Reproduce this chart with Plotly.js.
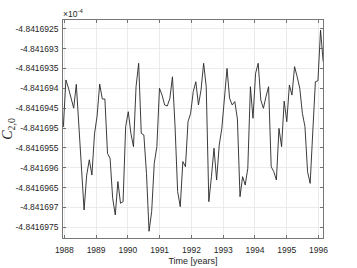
<!DOCTYPE html>
<html>
<head>
<meta charset="utf-8">
<script src="https://cdn.plot.ly/plotly-3.0.1.min.js"></script>
<style>html,body{margin:0;padding:0;background:#fff;}#chart{width:357px;height:268px;}</style>
</head>
<body>
<div id="chart"></div>
<script>
// Time in decimal years
const timeYears = [
1987.968,1988.050,1988.132,1988.213,1988.295,1988.377,1988.459,1988.541,1988.622,1988.704,
1988.786,1988.868,1988.950,1989.031,1989.113,1989.195,1989.277,1989.359,1989.440,1989.522,
1989.604,1989.686,1989.768,1989.849,1989.931,1990.013,1990.095,1990.177,1990.258,1990.340,
1990.422,1990.504,1990.586,1990.667,1990.749,1990.831,1990.913,1990.995,1991.076,1991.158,
1991.240,1991.322,1991.404,1991.485,1991.567,1991.649,1991.731,1991.813,1991.894,1991.976,
1992.058,1992.140,1992.222,1992.303,1992.385,1992.467,1992.549,1992.631,1992.712,1992.794,
1992.876,1992.958,1993.040,1993.121,1993.203,1993.285,1993.367,1993.449,1993.530,1993.612,
1993.694,1993.776,1993.858,1993.939,1994.021,1994.103,1994.185,1994.267,1994.348,1994.430,
1994.512,1994.594,1994.676,1994.757,1994.839,1994.921,1995.003,1995.085,1995.166,1995.248,
1995.330,1995.412,1995.494,1995.575,1995.657,1995.739,1995.821,1995.903,1995.984,1996.066,
1996.148];

// C_{2,0} in units of 1e-4
const c20 = [
-4.841694975,-4.841693790,-4.841694000,-4.841694250,-4.841694500,-4.841693900,-4.841694950,-4.841696000,-4.841697065,-4.841696185,
-4.841695800,-4.841696185,-4.841695150,-4.841694700,-4.841693895,-4.841694270,-4.841694270,-4.841695640,-4.841695765,-4.841696770,
-4.841697190,-4.841696350,-4.841696895,-4.841696855,-4.841694965,-4.841694590,-4.841695135,-4.841695470,-4.841693960,-4.841693370,
-4.841695135,-4.841695175,-4.841696140,-4.841697600,-4.841697105,-4.841695890,-4.841695470,-4.841694000,-4.841694170,-4.841694420,
-4.841694445,-4.841694255,-4.841693710,-4.841694950,-4.841696600,-4.841696980,-4.841695845,-4.841695975,-4.841694840,-4.841694630,
-4.841694085,-4.841693835,-4.841694420,-4.841694045,-4.841693370,-4.841693960,-4.841696855,-4.841696225,-4.841695510,-4.841696310,
-4.841695430,-4.841695010,-4.841694210,-4.841693500,-4.841694255,-4.841694420,-4.841694335,-4.841694775,-4.841696730,-4.841696225,
-4.841696435,-4.841696015,-4.841693960,-4.841694755,-4.841693625,-4.841693370,-4.841694295,-4.841694505,-4.841694210,-4.841693960,
-4.841695975,-4.841696100,-4.841696310,-4.841695010,-4.841695470,-4.841694325,-4.841694840,-4.841693920,-4.841694170,-4.841693455,
-4.841693710,-4.841694000,-4.841694630,-4.841694965,-4.841696100,-4.841696395,-4.841695100,-4.841693835,-4.841693810,-4.841692535,
-4.841693330];

const yTickVals = [-4.8416925,-4.841693,-4.8416935,-4.841694,-4.8416945,-4.841695,-4.8416955,-4.841696,-4.8416965,-4.841697,-4.8416975];
const yTickText = ['-4.8416925','-4.841693','-4.8416935','-4.841694','-4.8416945','-4.841695','-4.8416955','-4.841696','-4.8416965','-4.841697','-4.8416975'];
const xTickVals = [1988,1989,1990,1991,1992,1993,1994,1995,1996];
const xTickText = ['1988','1989','1990','1991','1992','1993','1994','1995','1996'];

const axisColor = '#555';
const font = {family: 'Liberation Sans, Arial, sans-serif', size: 8.5, color: '#262626'};

const trace = {
  x: timeYears, y: c20, type: 'scatter', mode: 'lines',
  line: {color: '#262626', width: 0.9}, hoverinfo: 'skip'
};

const layout = {
  width: 357, height: 268,
  margin: {l: 63, r: 34, t: 20, b: 30},
  paper_bgcolor: '#fff', plot_bgcolor: '#fff',
  showlegend: false,
  font: font,
  xaxis: {
    range: [1987.958, 1996.143],
    tickmode: 'array', tickvals: xTickVals, ticktext: xTickText,
    ticks: 'inside', ticklen: 3, tickcolor: axisColor, tickwidth: 0.8,
    showline: true, linecolor: axisColor, linewidth: 0.8, mirror: 'ticks',
    showgrid: true, gridcolor: '#e6e6e6', gridwidth: 0.8,
    zeroline: false, tickfont: font, ticklabelstandoff: 4,
    title: {text: 'Time [years]', font: {family: 'Liberation Sans, Arial, sans-serif', size: 9, color: '#262626'}, standoff: 3}
  },
  yaxis: {
    range: [-4.84169777, -4.84169228],
    tickmode: 'array', tickvals: yTickVals, ticktext: yTickText,
    ticks: 'inside', ticklen: 3, tickcolor: axisColor, tickwidth: 0.8,
    showline: true, linecolor: axisColor, linewidth: 0.8, mirror: 'ticks',
    showgrid: true, gridcolor: '#e6e6e6', gridwidth: 0.8,
    zeroline: false, tickfont: font, ticklabelstandoff: 2,
    title: {text: '<i>C</i><sub>2,0</sub>', font: {family: 'Liberation Serif, serif', size: 14, color: '#262626'}, standoff: 1}
  },
  annotations: [{
    xref: 'paper', yref: 'paper', x: 0, y: 1, xanchor: 'left', yanchor: 'bottom',
    text: '×10<sup>-4</sup>', showarrow: false,
    font: {family: 'Liberation Sans, Arial, sans-serif', size: 8.5, color: '#262626'},
    xshift: -2, yshift: -1
  }]
};

Plotly.newPlot('chart', [trace], layout, {staticPlot: true, displayModeBar: false});
</script>
</body>
</html>
